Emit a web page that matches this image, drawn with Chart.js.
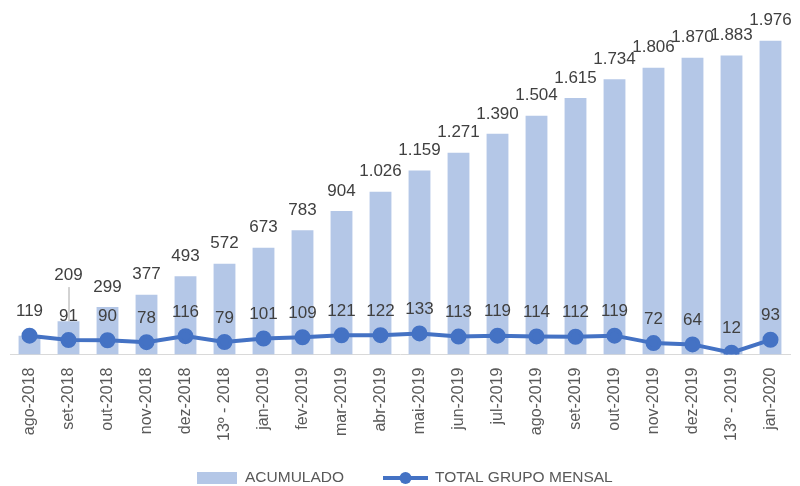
<!DOCTYPE html>
<html><head><meta charset="utf-8">
<script src="https://cdn.jsdelivr.net/npm/chart.js@4/dist/chart.umd.min.js"></script>
<style>html,body{margin:0;padding:0;background:#fff}#wrap{width:800px;height:486px}</style>
</head><body><div id="wrap"><canvas id="c" width="800" height="486"></canvas></div>
<script>
const categories = ["ago-2018","set-2018","out-2018","nov-2018","dez-2018","13º - 2018","jan-2019","fev-2019","mar-2019","abr-2019","mai-2019","jun-2019","jul-2019","ago-2019","set-2019","out-2019","nov-2019","dez-2019","13º - 2019","jan-2020"];
const acumulado = [119,209,299,377,493,572,673,783,904,1026,1159,1271,1390,1504,1615,1734,1806,1870,1883,1976];
const mensal = [119,91,90,78,116,79,101,109,121,122,133,113,119,114,112,119,72,64,12,93];
const seriesNames = ["ACUMULADO","TOTAL GRUPO MENSAL"];

const FONT = "'Liberation Sans', sans-serif";
const BAR = "#B4C7E7", LINE = "#4472C4", TXT = "#404040", AX = "#595959";
const fmt = v => v.toLocaleString('pt-BR');

const labelPlugin = {
  id: 'labels',
  afterDatasetsDraw(chart) {
    const ctx = chart.ctx;
    const barMeta = chart.getDatasetMeta(0), lineMeta = chart.getDatasetMeta(1);
    ctx.save();
    ctx.font = "17px " + FONT;
    ctx.fillStyle = TXT;
    ctx.textAlign = 'center';
    ctx.textBaseline = 'middle';
    const H = 18;
    lineMeta.data.forEach((p, i) => {
      ctx.fillText(fmt(mensal[i]), p.x, p.y - 24);
    });
    barMeta.data.forEach((b, i) => {
      if (acumulado[i] === mensal[i]) return;
      const lp = lineMeta.data[i];
      const lineLabelY = lp.y - 24;
      let y = b.y - 20;
      if (Math.abs(y - lineLabelY) < H) {
        y = lineLabelY - 41;
        ctx.strokeStyle = "#A6A6A6"; ctx.lineWidth = 1;
        ctx.beginPath(); ctx.moveTo(b.x + 0.5, y + 12); ctx.lineTo(b.x + 0.5, b.y); ctx.stroke();
      }
      ctx.fillText(fmt(acumulado[i]), b.x, y);
    });
    ctx.restore();
  }
};

const legendPlugin = {
  id: 'customLegend',
  afterDraw(chart) {
    const ctx = chart.ctx;
    const y = 478;
    ctx.save();
    ctx.font = "15.5px " + FONT;
    ctx.textBaseline = 'middle';
    ctx.textAlign = 'left';
    ctx.fillStyle = BAR;
    ctx.fillRect(197, y - 6, 40, 12);
    ctx.fillStyle = AX;
    ctx.fillText(seriesNames[0], 245, y);
    ctx.strokeStyle = LINE; ctx.lineWidth = 4;
    ctx.beginPath(); ctx.moveTo(383, y); ctx.lineTo(428, y); ctx.stroke();
    ctx.fillStyle = LINE;
    ctx.beginPath(); ctx.arc(405.5, y, 6, 0, Math.PI * 2); ctx.fill();
    ctx.fillStyle = AX;
    ctx.fillText(seriesNames[1], 435, y);
    ctx.restore();
  }
};

new Chart(document.getElementById('c'), {
  data: {
    labels: categories,
    datasets: [
      { type: 'bar', label: seriesNames[0], data: acumulado, backgroundColor: BAR, barPercentage: 0.56, categoryPercentage: 1.0, order: 1 },
      { type: 'line', label: seriesNames[1], data: mensal, borderColor: LINE, backgroundColor: LINE, borderWidth: 4, pointRadius: 6, pointHoverRadius: 6, order: 0, tension: 0 }
    ]
  },
  options: {
    responsive: false,
    animation: false,
    devicePixelRatio: 1,
    layout: { padding: { left: 9, right: 3, top: 0, bottom: 40 } },
    plugins: { legend: { display: false }, tooltip: { enabled: false } },
    scales: {
      x: {
        grid: { display: false },
        border: { display: true, color: "#D9D9D9", width: 1 },
        ticks: { color: AX, font: { family: FONT, size: 16 }, minRotation: 90, maxRotation: 90, autoSkip: false, padding: 5 }
      },
      y: { display: false, min: 0, max: 2170 }
    }
  },
  plugins: [labelPlugin, legendPlugin]
});
</script></body></html>
